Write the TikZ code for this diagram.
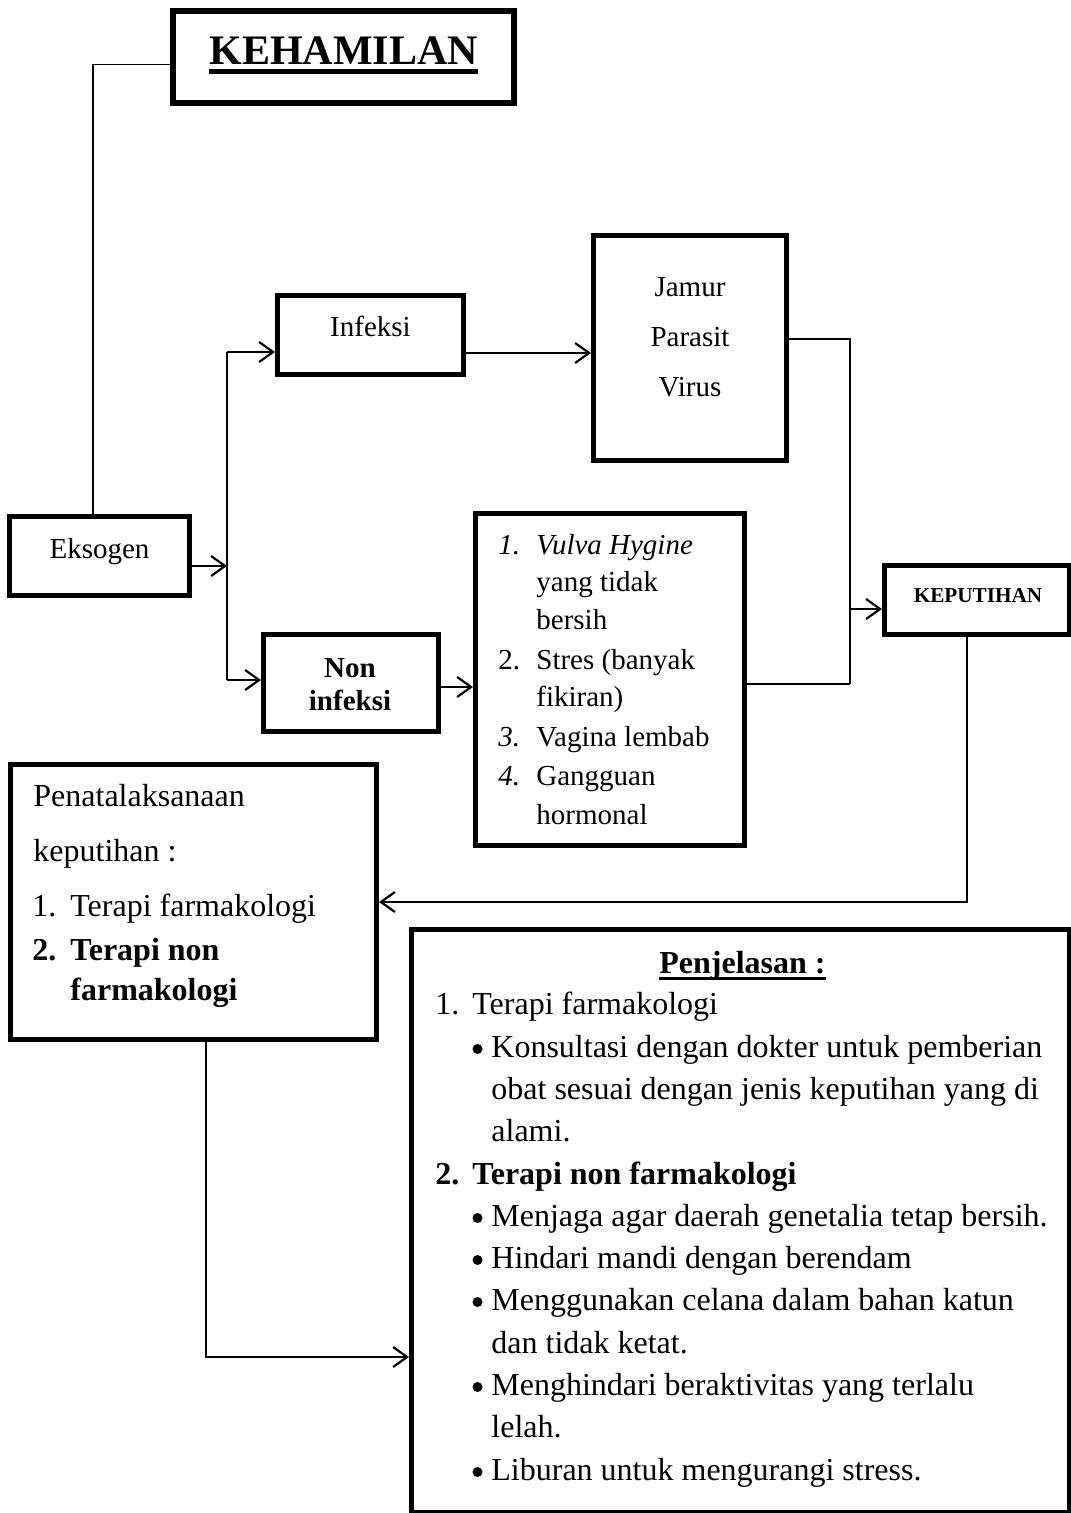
\documentclass[tikz,border=0pt]{standalone}
\usepackage{fontspec}
\setmainfont{Liberation Serif}
\usetikzlibrary{arrows.meta}
\newcommand\myul[3]{\setbox0=\hbox{#3}\rlap{\rule[#1]{\wd0}{#2}}\box0}
\begin{document}
\begin{tikzpicture}[x=0.5pt,y=-0.5pt,
  box/.style={draw, line width=2.5pt, inner sep=0pt},
  tc/.style={inner sep=0pt, anchor=base},
  tl/.style={inner sep=0pt, anchor=base west},
  big/.style={font=\fontsize{16}{21}\selectfont},
  small/.style={font=\fontsize{14.5}{18}\selectfont},
  conn/.style={line width=0.75pt},
  thinconn/.style={line width=0.6pt},
  arr/.style={line width=0.9pt, -{Straight Barb[length=7pt,width=10pt,line width=1.1pt]}}]
\useasboundingbox (0,0) rectangle (1070,1513);
% boxes
\node[box, line width=3pt, minimum width=170.25pt, minimum height=46.05pt] (keh) at (343.25,56.65) {};
\node[box, minimum width=90pt, minimum height=39.5pt] (eks) at (99.5,556) {};
\node[box, minimum width=93pt, minimum height=39.5pt] (inf) at (370.5,335) {};
\node[box, minimum width=96.5pt, minimum height=112.5pt] (jam) at (690,348) {};
\node[box, minimum width=87.5pt, minimum height=48.5pt] (non) at (351,683) {};
\node[box, minimum width=134.5pt, minimum height=166pt] (lst) at (610,679.5) {};
\node[box, minimum width=92.5pt, minimum height=34.5pt] (kep) at (977,600) {};
\node[box, minimum width=183pt, minimum height=137.5pt] (pen) at (193.5,902) {};
\node[box, minimum width=329pt, minimum height=291.25pt] (pjl) at (740.5,1220.75) {};
% texts in small boxes
\node[tc, font=\fontsize{21}{25}\selectfont\bfseries] (tkeh) at (343.5,65) {\myul{-4.6pt}{2.4pt}{KEHAMILAN}};
\node[tc, small] (teks) at (99.5,558) {Eksogen};
\node[tc, small] (tinf) at (370.5,337) {Infeksi};
\node[tc, small] (tj1) at (690,297) {Jamur};
\node[tc, small] (tj2) at (690,347) {Parasit};
\node[tc, small] (tj3) at (690,397) {Virus};
\node[tc, font=\fontsize{14.5}{18}\selectfont\bfseries] (tn1) at (350,677) {Non};
\node[tc, font=\fontsize{14.5}{18}\selectfont\bfseries] (tn2) at (350,710) {infeksi};
\node[tc, font=\fontsize{10.6}{12}\selectfont\bfseries] (tkep) at (978,602) {KEPUTIHAN};
% list box
\node[tl, small] (l1) at (536,554) {\llap{\makebox[19pt][l]{\itshape 1.}}\textit{Vulva Hygine}};
\node[tl, small] (l2) at (536,591) {yang tidak};
\node[tl, small] (l3) at (536,629) {bersih};
\node[tl, small] (l4) at (536,669) {\llap{\makebox[19pt][l]{2.}}Stres (banyak};
\node[tl, small] (l5) at (536,706) {fikiran)};
\node[tl, small] (l6) at (536,746) {\llap{\makebox[19pt][l]{\itshape 3.}}Vagina lembab};
\node[tl, small] (l7) at (536,785) {\llap{\makebox[19pt][l]{\itshape 4.}}Gangguan};
\node[tl, small] (l8) at (536,824) {hormonal};
% Penatalaksanaan
\node[tl, big] (q1) at (33,806) {Penatalaksanaan};
\node[tl, big] (q2) at (33,861) {keputihan :};
\node[tl, big] (q3) at (70,916) {\llap{\makebox[19pt][l]{1.}}Terapi farmakologi};
\node[tl, font=\fontsize{16}{21}\selectfont\bfseries] (q4) at (70,960) {\llap{\makebox[19pt][l]{2.}}Terapi non};
\node[tl, font=\fontsize{16}{21}\selectfont\bfseries] (q5) at (70,1000) {farmakologi};
% Penjelasan
\node[tc, font=\fontsize{16}{21}\selectfont\bfseries] (p0) at (742.5,973) {\myul{-3.6pt}{1.5pt}{Penjelasan :}};
\node[tl, big] (p1) at (472,1014) {\llap{\makebox[18.5pt][l]{1.}}Terapi farmakologi};
\node[tl, big] (p2) at (491,1057) {Konsultasi dengan dokter untuk pemberian};
\node[tl, big] (p3) at (491,1099) {obat sesuai dengan jenis keputihan yang di};
\node[tl, big] (p4) at (491,1141) {alami.};
\node[tl, font=\fontsize{16}{21}\selectfont\bfseries] (p5) at (472,1184) {\llap{\makebox[18.5pt][l]{2.}}Terapi non farmakologi};
\node[tl, big] (p6) at (491,1226) {Menjaga agar daerah genetalia tetap bersih.};
\node[tl, big] (p7) at (491,1268) {Hindari mandi dengan berendam};
\node[tl, big] (p8) at (491,1310) {Menggunakan celana dalam bahan katun};
\node[tl, big] (p9) at (491,1353) {dan tidak ketat.};
\node[tl, big] (p10) at (491,1395) {Menghindari beraktivitas yang terlalu};
\node[tl, big] (p11) at (491,1437) {lelah.};
\node[tl, big] (p12) at (491,1480) {Liburan untuk mengurangi stress.};
% bullets
\foreach \n in {p2,p6,p7,p8,p10,p12}
  \fill ([xshift=-6.75pt,yshift=4pt]\n.base west) circle (2.5pt);
% helper coordinates
\coordinate (busT) at (227,352);
\coordinate (busB) at (227,680);
\coordinate (j2) at (850,684);
\coordinate (eksR) at ([yshift=-5pt]eks.east);
\coordinate (infR) at ([yshift=-9pt]inf.east);
\coordinate (jamR) at ([yshift=4.5pt]jam.east);
\coordinate (lstR) at ([yshift=-2.25pt]lst.east);
\coordinate (kepL) at ([yshift=-4.5pt]kep.west);
\coordinate (nonR) at ([yshift=-2pt]non.east);
\coordinate (kepB) at ([xshift=-5pt]kep.south);
\coordinate (penB) at ([xshift=6.25pt]pen.south);
\coordinate (pjlL) at ([yshift=-68.125pt]pjl.west);
\coordinate (kehL) at ([yshift=-3.875pt]keh.west);
\coordinate (eksT) at ([xshift=-3.25pt]eks.north);
% connectors
\draw[conn] (kehL) -| (eksT);
\draw[conn] (busT) -- (busB);
\draw[arr] (eksR) -- (eksR -| busT);
\draw[arr] (busT) -- (busT -| inf.west);
\draw[arr] (busB) -- (busB -| non.west);
\draw[arr] (infR) -- (infR -| jam.west);
\draw[thinconn] (jamR) -| (j2);
\draw[conn] (lstR) -- (j2);
\draw[arr] (kepL -| j2) -- (kepL);
\draw[arr] (nonR) -- (nonR -| lst.west);
\draw[arr] (kepB) |- (pen.east);
\draw[arr] (penB) |- (pjlL);
\end{tikzpicture}
\end{document}
